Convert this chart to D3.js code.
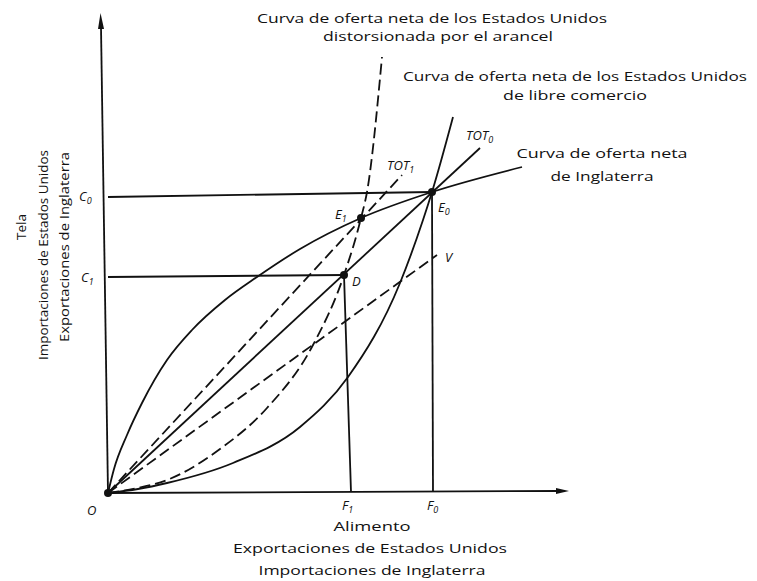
<!DOCTYPE html>
<html>

<head>
	<meta charset="utf-8">
	<script src="https://cdn.jsdelivr.net/npm/d3@7"></script>
	<style>
		body {
			margin: 0;
			background: white;
		}

		text {
			font-family: "Open Sans", "DejaVu Sans", sans-serif;
			fill: #111;
		}

		.curve {
			fill: none;
			stroke: #111;
			stroke-width: 1.8;
		}

		.dashed {
			stroke-dasharray: 11, 5;
		}

		.lbl {
			font-style: italic;
			font-size: 13px;
		}
	</style>
</head>

<body>
	<svg></svg>
	<script>
		var width = 757;
		var height = 581;

		// offer curves (units: food on x, cloth on y)
		var englandCurve = [[0, 0], [6, 24], [19, 58], [34, 90], [59, 133], [84, 163], [117, 193],
			[149, 216], [192, 244], [253, 275], [324, 301], [414, 326]];
		var usFreeCurve = [[0, 0], [30, 4], [59, 10], [125, 30], [192, 66], [240, 116], [292, 210],
			[315, 273], [324, 301], [345, 376]];
		var usTariffCurve = [[0, 0], [30, 5], [59, 13], [112, 44], [159, 85], [205, 148], [236, 218],
			[253, 275], [259, 301], [274, 436]];

		// terms of trade rays from the origin
		var rayNames = ["TOT0", "TOT1", "V"];
		var rayEnds = [[372, 345], [294, 318], [329, 238]];
		var rayDashed = [false, true, true];

		// marked points
		var pointNames = ["E0", "E1", "D"];
		var pointX = [324, 253, 236];
		var pointY = [301, 275, 218];

		// guide lines to the axes
		var cloth = [296, 216];       // C0, C1 where they meet the y axis
		var food = [325, 243];        // F0, F1 where they meet the x axis

		var svg = d3.select("svg")
			.attr("width", width)
			.attr("height", height);

		svg.append("rect").attr("width", width).attr("height", height).attr("fill", "white");

		var x = d3.scaleLinear().domain([0, 460]).range([108, 568]);
		var y = d3.scaleLinear().domain([0, 478]).range([493, 15]);

		var line = d3.line()
			.x(d => x(d[0]))
			.y(d => y(d[1]))
			.curve(d3.curveMonotoneX);
		var straight = d3.line().x(d => x(d[0])).y(d => y(d[1]));

		// axes
		svg.append("path").attr("class", "curve").attr("d", straight([[0, 0], [-7, 466]]));
		svg.append("path").attr("class", "curve").attr("d", straight([[0, 0], [450, 2]]));
		svg.append("path")
			.attr("d", `M${x(-7) - 3},${y(464)} L${x(-7.5)},${y(480)} L${x(-7) + 3},${y(464)} Z`)
			.attr("fill", "#111");
		svg.append("path")
			.attr("d", `M${x(448)},${y(2) - 3} L${x(461)},${y(2)} L${x(448)},${y(2) + 3} Z`)
			.attr("fill", "#111");

		// guides: C lines to the points, F lines down from the points
		svg.append("path").attr("class", "curve").attr("d", straight([[0, cloth[0]], [pointX[0], pointY[0]]]));
		svg.append("path").attr("class", "curve").attr("d", straight([[0, cloth[1]], [pointX[2], pointY[2]]]));
		svg.append("path").attr("class", "curve").attr("d", straight([[pointX[0], pointY[0]], [food[0], 1]]));
		svg.append("path").attr("class", "curve").attr("d", straight([[pointX[2], pointY[2]], [food[1], 1]]));

		// rays
		rayEnds.forEach((e, i) => {
			svg.append("path")
				.attr("class", rayDashed[i] ? "curve dashed" : "curve")
				.attr("d", straight([[0, 0], e]));
		});

		// offer curves
		svg.append("path").attr("class", "curve").attr("d", line(englandCurve));
		svg.append("path").attr("class", "curve").attr("d", line(usFreeCurve));
		svg.append("path").attr("class", "curve dashed").attr("d", line(usTariffCurve));

		// points
		svg.selectAll("circle")
			.data(pointNames.map((n, i) => [pointX[i], pointY[i]]).concat([[0, 0]]))
			.enter()
			.append("circle")
			.attr("cx", d => x(d[0]))
			.attr("cy", d => y(d[1]))
			.attr("r", 4)
			.attr("fill", "#111");

		// italic point labels with subscripts
		function label(px, py, main, sub) {
			var t = svg.append("text").attr("class", "lbl").attr("x", px).attr("y", py).text(main);
			if (sub) t.append("tspan").attr("dy", 3).attr("font-size", 9).text(sub);
		}
		label(335, 219, "E", "1");
		label(438, 212, "E", "0");
		label(352, 286, "D");
		label(445, 262, "V");
		label(387, 170, "TOT", "1");
		label(466, 140, "TOT", "0");
		label(79, 201, "C", "0");
		label(81, 282, "C", "1");
		label(87, 515, "O");
		label(342, 510, "F", "1");
		label(427, 510, "F", "0");

		// descriptive texts
		var notes = [
			["Curva de oferta neta de los Estados Unidos", 432, 23, 350],
			["distorsionada por el arancel", 438, 41, 230],
			["Curva de oferta neta de los Estados Unidos", 575, 81, 344],
			["de libre comercio", 575, 100, 144],
			["Curva  de oferta neta", 602, 158, 171],
			["de Inglaterra", 602, 181, 103],
			["Alimento", 372, 531, 77],
			["Exportaciones de Estados Unidos", 370, 553, 274],
			["Importaciones de Inglaterra", 372, 575, 227]
		];
		notes.forEach(n => {
			svg.append("text")
				.attr("x", n[1]).attr("y", n[2])
				.attr("text-anchor", "middle")
				.attr("font-size", 13.5)
				.attr("textLength", n[3])
				.attr("lengthAdjust", "spacingAndGlyphs")
				.text(n[0]);
		});

		var sideNotes = [
			["Tela", 26, 227, 26],
			["Importaciones de Estados Unidos", 48, 255, 210],
			["Exportaciones de Inglaterra", 69, 247, 190]
		];
		sideNotes.forEach(n => {
			svg.append("text")
				.attr("transform", `translate(${n[1]},${n[2]}) rotate(-90)`)
				.attr("text-anchor", "middle")
				.attr("font-size", 13)
				.attr("textLength", n[3])
				.attr("lengthAdjust", "spacingAndGlyphs")
				.text(n[0]);
		});
	</script>
</body>

</html>
